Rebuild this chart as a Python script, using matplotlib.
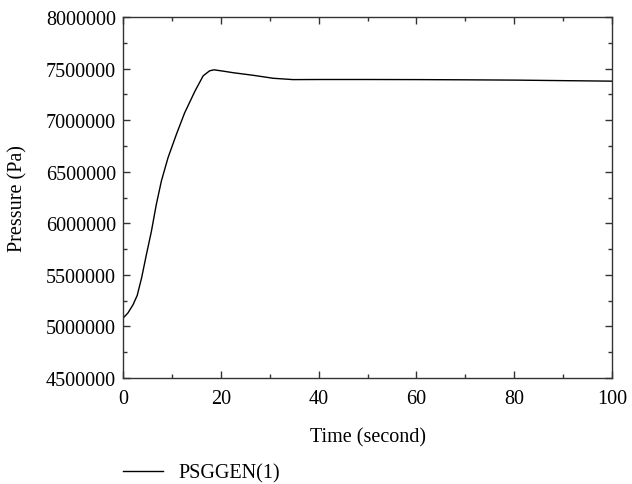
import numpy as np
import matplotlib
matplotlib.use("Agg")
import matplotlib.pyplot as plt
from matplotlib.ticker import MultipleLocator, FormatStrFormatter

# Curve
time_s = [0, 1.0, 2.05, 2.9, 3.8, 4.8, 5.8, 6.8, 7.85, 9.2, 10.9, 12.6,
          14.7, 16.4, 17.7, 18.6, 20.5, 22.5, 26.6, 30.7, 34.8, 40, 50,
          60.7, 70, 80.5, 90, 100]
pressure_pa = [5080000, 5130000, 5210000, 5300000, 5470000, 5700000, 5920000,
               6180000, 6410000, 6635000, 6860000, 7070000, 7280000, 7430000,
               7478000, 7488000, 7475000, 7460000, 7435000, 7406000, 7393000,
               7394000, 7394000, 7393000, 7391000, 7388000, 7383000, 7378000]
series_name = "PSGGEN(1)"

plt.rcParams['font.family'] = ['Liberation Serif', 'DejaVu Serif']
plt.rcParams['font.size'] = 14.5

fig = plt.figure(figsize=(6.32, 4.85), dpi=100)
ax = fig.add_axes([123 / 632, 1 - 379 / 485, (612 - 123) / 632, (379 - 18) / 485])

line, = ax.plot(time_s, pressure_pa, color='black', lw=1.0)

ax.set_xlim(0, 100)
ax.set_ylim(4500000, 8000000)
ax.xaxis.set_major_locator(MultipleLocator(20))
ax.xaxis.set_minor_locator(MultipleLocator(10))
ax.yaxis.set_major_locator(MultipleLocator(500000))
ax.yaxis.set_minor_locator(MultipleLocator(250000))
ax.yaxis.set_major_formatter(FormatStrFormatter('%d'))

ax.tick_params(which='both', direction='in', top=True, right=True,
               color='#333333', labelsize=14.5)
ax.tick_params(which='major', length=5, width=1)
ax.tick_params(which='minor', length=3, width=1)
ax.tick_params(axis='x', pad=8)
ax.tick_params(axis='y', pad=5)
for s in ax.spines.values():
    s.set_color('#333333')
    s.set_linewidth(1.0)

ax.set_xlabel('Time (second)', fontsize=14.5, labelpad=14)
ax.set_ylabel('Pressure (Pa)', fontsize=14.5)
ax.yaxis.set_label_coords(-0.196, 0.5)

fig.legend([line], [series_name], loc='center left',
           bbox_to_anchor=(123 / 632, 1 - 474 / 485), frameon=False,
           borderpad=0, borderaxespad=0, handlelength=2.0, handletextpad=0.75,
           fontsize=14.5)

fig.savefig('out.png', dpi=100)
